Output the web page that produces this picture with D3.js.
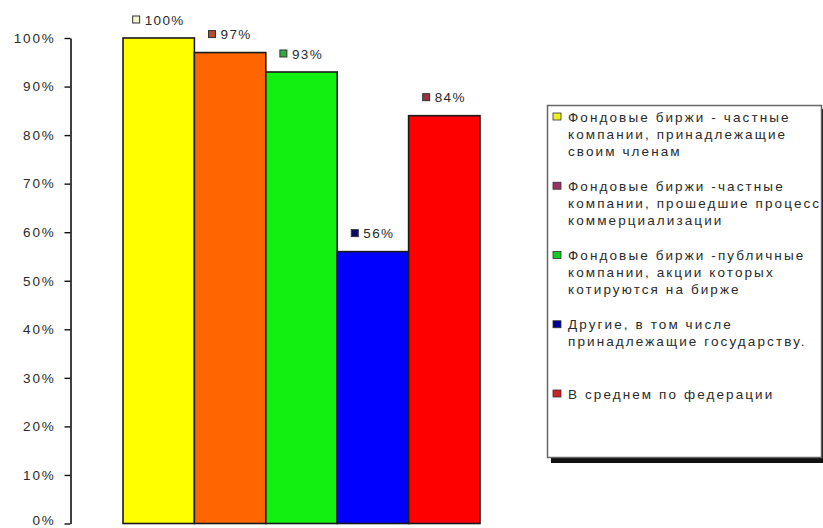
<!DOCTYPE html>
<html>
<head>
<meta charset="utf-8">
<script src="https://cdn.jsdelivr.net/npm/d3@7"></script>
<style>
  html, body { margin: 0; padding: 0; background: #fff; }
  svg { display: block; }
  text { font-family: "Liberation Sans", Arial, sans-serif; fill: #2a2a2a; }
</style>
</head>
<body>
<svg id="chart" width="823" height="528"></svg>
<script>
// Share of exchanges by ownership type
const categories = [
  "Фондовые биржи - частные компании, принадлежащие своим членам",
  "Фондовые биржи -частные компании, прошедшие процесс коммерциализации",
  "Фондовые биржи -публичные компании, акции которых котируются на бирже",
  "Другие, в том числе принадлежащие государству.",
  "В среднем по федерации"
];
const legendLines = [
  ["Фондовые биржи - частные", "компании, принадлежащие", "своим членам"],
  ["Фондовые биржи -частные", "компании, прошедшие процесс", "коммерциализации"],
  ["Фондовые биржи -публичные", "компании, акции которых", "котируются на бирже"],
  ["Другие, в том числе", "принадлежащие государству."],
  ["В среднем по федерации"]
];
const values = [100, 97, 93, 56, 84];
const valueLabels = ["100%", "97%", "93%", "56%", "84%"];
const tickValues = [0, 10, 20, 30, 40, 50, 60, 70, 80, 90, 100];
const tickLabels = ["0%", "10%", "20%", "30%", "40%", "50%", "60%", "70%", "80%", "90%", "100%"];

const barColors = ["#ffff00", "#ff6600", "#11f011", "#0000ff", "#ff0000"];
const labelKeyColors = ["#f4f4d0", "#b84a30", "#33aa44", "#0a0a66", "#993344"];
const legendKeyColors = ["#eeee22", "#993366", "#11cc22", "#000099", "#cc2222"];

const svg = d3.select("#chart");

const y = d3.scaleLinear().domain([0, 100]).range([523.5, 38]);
const x = d3.scaleBand().domain(d3.range(values.length)).range([123, 480]).padding(0);

// value axis
const axis = d3.axisLeft(y)
  .tickValues(tickValues)
  .tickFormat((d, i) => tickLabels[i])
  .tickSize(6)
  .tickSizeOuter(0)
  .tickPadding(9);

const gAxis = svg.append("g").attr("transform", "translate(70.5,0)").call(axis);
gAxis.select(".domain").attr("stroke", "#111").attr("stroke-width", 1.6);
gAxis.selectAll(".tick line").attr("stroke", "#111").attr("stroke-width", 1.4);
gAxis.selectAll(".tick text")
  .attr("fill", "#333")
  .attr("dy", d => d === 0 ? "0.1em" : "0.32em")
  .style("font-size", "13.5px")
  .style("letter-spacing", "1.8px")
  .style("font-family", "'Liberation Sans', Arial, sans-serif");

// bars
svg.append("g").selectAll("rect")
  .data(values)
  .join("rect")
  .attr("x", (d, i) => x(i))
  .attr("y", d => y(d))
  .attr("width", x.bandwidth())
  .attr("height", d => y(0) - y(d))
  .attr("fill", (d, i) => barColors[i])
  .attr("stroke", "#1a1a1a")
  .attr("stroke-width", 1.6);

// value labels with colour keys
const lbl = svg.append("g").selectAll("g")
  .data(values)
  .join("g")
  .attr("transform", (d, i) => `translate(${x(i) + x.bandwidth() / 2},${y(d) - 18})`);

lbl.each(function (d, i) {
  const g = d3.select(this);
  const t = g.append("text")
    .attr("dy", "0.35em")
    .style("font-size", "13.5px")
    .style("letter-spacing", "1.4px")
    .attr("fill", "#333")
    .text(valueLabels[i]);
  const w = t.node().getComputedTextLength();
  const total = 8 + 4 + w;
  g.append("rect")
    .attr("x", -total / 2)
    .attr("y", -4)
    .attr("width", 7)
    .attr("height", 7)
    .attr("fill", labelKeyColors[i])
    .attr("stroke", "#333")
    .attr("stroke-width", 1);
  t.attr("x", -total / 2 + 12);
});

// legend
const legend = svg.append("g");
legend.append("rect")
  .attr("x", 551).attr("y", 109)
  .attr("width", 280).attr("height", 354)
  .attr("fill", "#111");
legend.append("rect")
  .attr("x", 547.5).attr("y", 105.5)
  .attr("width", 274).attr("height", 352)
  .attr("fill", "#fff")
  .attr("stroke", "#666")
  .attr("stroke-width", 1.5);

const itemY = d3.scaleLinear().domain([0, 4]).range([117, 394]);
const items = legend.selectAll("g.item")
  .data(categories)
  .join("g")
  .attr("class", "item")
  .attr("transform", (d, i) => `translate(553,${itemY(i)})`);

items.append("rect")
  .attr("x", 0).attr("y", -4)
  .attr("width", 8).attr("height", 7)
  .attr("fill", (d, i) => legendKeyColors[i])
  .attr("stroke", "#333")
  .attr("stroke-width", 0.8);

items.each(function (d, i) {
  d3.select(this).selectAll("text")
    .data(legendLines[i])
    .join("text")
    .attr("x", 15)
    .attr("y", (t, j) => j * 17)
    .attr("dy", "0.35em")
    .style("font-size", "13.5px")
    .style("letter-spacing", "2.1px")
    .attr("fill", "#333")
    .text(t => t);
});
</script>
</body>
</html>
